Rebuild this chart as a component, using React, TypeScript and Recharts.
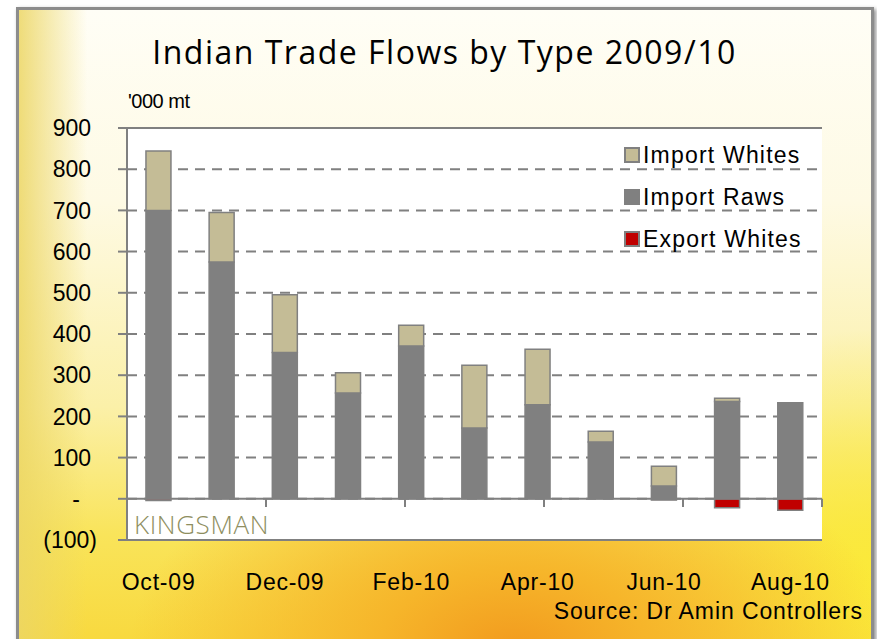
import React from 'react';
import { BarChart, Bar, XAxis, YAxis, CartesianGrid, ReferenceLine } from 'recharts';

const months = ['Oct-09', 'Nov-09', 'Dec-09', 'Jan-10', 'Feb-10', 'Mar-10', 'Apr-10', 'May-10', 'Jun-10', 'Jul-10', 'Aug-10'];
const importRaws = [700, 575, 355, 257, 371, 172, 228, 138, 31, 236, 233];
const importWhites = [144, 120, 140, 49, 50, 152, 135, 26, 48, 8, 0];
const exportWhites = [-4, 0, 0, 0, 0, 0, 0, 0, -3, -22, -28];
const yTicks = [-100, 0, 100, 200, 300, 400, 500, 600, 700, 800, 900];
const tickBoundaries = [2, 4, 6, 8, 10];

const data = months.map((m, i) => ({
  month: m,
  raws: importRaws[i],
  whites: importWhites[i],
  exports: exportWhites[i],
}));

const legendItems = [
  { label: 'Import Whites', color: '#C4BC96' },
  { label: 'Import Raws', color: '#808080' },
  { label: 'Export Whites', color: '#C00000' },
];

const FONT = '"Liberation Sans", Arial, sans-serif';
const GRAY = '#808080';

const YTick = (props: any) => {
  const { x, y, payload } = props;
  const v = payload.value;
  let label = String(v);
  let tx = x;
  if (v === 0) {
    label = '-';
    tx = x - 11;
  } else if (v < 0) {
    label = `(${Math.abs(v)})`;
    tx = x + 6;
  }
  return (
    <text x={tx} y={y} dy="0.36em" textAnchor="end" fontSize={23} fontFamily={FONT} fill="#000">
      {label}
    </text>
  );
};

// legend drawn over the plot, top right, in the reference's order
const LegendBox = () => (
  <div
    style={{
      position: 'absolute',
      left: 624,
      top: 134,
      fontFamily: FONT,
      fontSize: 23,
      letterSpacing: 1.2,
      color: '#000',
    }}
  >
    {legendItems.map((item) => (
      <div key={item.label} style={{ display: 'flex', alignItems: 'center', height: 42 }}>
        <span
          style={{
            display: 'inline-block',
            width: 12,
            height: 12,
            background: item.color,
            border: `2px solid ${GRAY}`,
            marginRight: 3,
          }}
        />
        <span>{item.label}</span>
      </div>
    ))}
  </div>
);

export default function App() {
  return (
    <div style={{ position: 'relative', width: 877, height: 639, overflow: 'hidden', background: '#fff' }}>
      <style>{'body{margin:0}'}</style>
      <div
        style={{
          position: 'absolute',
          left: 16,
          top: 7,
          width: 852,
          height: 640,
          border: '3px solid #8c8c8c',
          boxShadow: '2px 2px 4px rgba(0,0,0,0.45)',
          background: [
            'radial-gradient(ellipse 45% 35% at 58% 100%, #F29A1E 0%, #F6B52A 35%, rgba(249,214,60,0) 100%)',
            'radial-gradient(ellipse 30% 40% at 100% 90%, #FBEA38 0%, rgba(251,234,56,0) 100%)',
            'linear-gradient(to right, rgba(236,214,100,0.85) 0%, rgba(238,218,110,0) 8%)',
            'linear-gradient(to bottom, #FFFEF6 0%, #FEFAE4 30%, #FBF0A8 62%, #F9E45A 82%, #F8D83C 100%)',
          ].join(','),
        }}
      />
      <div
        style={{
          position: 'absolute',
          left: 0,
          width: 877,
          top: 30,
          textAlign: 'center',
          fontFamily: '"Open Sans", sans-serif',
          fontSize: 32,
          letterSpacing: 1.5,
          color: '#000',
          paddingLeft: 6,
        }}
      >
        Indian Trade Flows by Type 2009/10
      </div>
      <div
        style={{
          position: 'absolute',
          left: 128,
          top: 90,
          fontFamily: FONT,
          fontSize: 20,
          letterSpacing: -0.5,
          color: '#000',
        }}
      >
        '000 mt
      </div>
      <div style={{ position: 'absolute', left: 0, top: 0 }}>
        <BarChart
          width={877}
          height={639}
          data={data}
          stackOffset="sign"
          barCategoryGap="30%"
          margin={{ top: 128, right: 55, bottom: 59, left: 0 }}
        >
          <CartesianGrid vertical={false} fill="#fff" stroke={GRAY} strokeWidth={2} strokeDasharray="10 7" />
          <XAxis
            dataKey="month"
            interval={1}
            axisLine={false}
            tickLine={false}
            tickSize={0}
            tickMargin={34}
            height={40}
            tick={{ fontSize: 23, fontFamily: FONT, fill: '#000', letterSpacing: 0.8 }}
          />
          <XAxis xAxisId="b" type="number" domain={[0, 11]} hide />
          <YAxis
            domain={[-100, 900]}
            ticks={yTicks}
            width={127}
            axisLine={{ stroke: GRAY, strokeWidth: 2 }}
            tickLine={{ stroke: GRAY, strokeWidth: 2 }}
            tickSize={9}
            tickMargin={27}
            tick={<YTick />}
            interval={0}
          />
          <YAxis
            yAxisId="r"
            orientation="right"
            domain={[-100, 900]}
            width={0}
            tick={false}
            tickLine={false}
            axisLine={{ stroke: GRAY, strokeWidth: 2 }}
          />
          <Bar dataKey="raws" stackId="a" fill={GRAY} stroke={GRAY} strokeWidth={1.5} isAnimationActive={false} />
          <Bar dataKey="whites" stackId="a" fill="#C4BC96" stroke={GRAY} strokeWidth={1.5} isAnimationActive={false} />
          <Bar dataKey="exports" stackId="a" fill="#C00000" stroke={GRAY} strokeWidth={1.5} isAnimationActive={false} />
          <ReferenceLine y={0} stroke={GRAY} strokeWidth={2} />
          <ReferenceLine y={900} stroke={GRAY} strokeWidth={2} />
          <ReferenceLine y={-100} stroke={GRAY} strokeWidth={2} />
          {tickBoundaries.map((b) => (
            <ReferenceLine
              key={b}
              xAxisId="b"
              segment={[{ x: b, y: 0 }, { x: b, y: -20 }]}
              stroke={GRAY}
              strokeWidth={2}
            />
          ))}
        </BarChart>
      </div>
      <LegendBox />
      <div
        style={{
          position: 'absolute',
          left: 134,
          top: 506,
          fontFamily: '"Open Sans", sans-serif',
          fontWeight: 300,
          fontSize: 26,
          color: '#8E8E60',
          letterSpacing: 0.6,
        }}
      >
        KINGSMAN
      </div>
      <div
        style={{
          position: 'absolute',
          right: 14,
          top: 598,
          fontFamily: FONT,
          fontSize: 23,
          letterSpacing: 0.9,
          color: '#000',
        }}
      >
        Source: Dr Amin Controllers
      </div>
    </div>
  );
}
